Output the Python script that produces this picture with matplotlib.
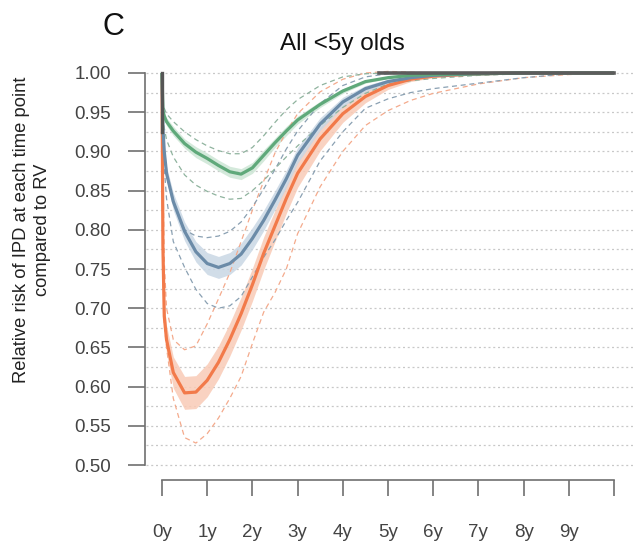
import numpy as np
import matplotlib
matplotlib.use("Agg")
import matplotlib.pyplot as plt

plt.rcParams['font.family'] = ['Liberation Sans', 'DejaVu Sans']

# time since vaccination (years)
t = [0, 0.02, 0.05, 0.1, 0.25, 0.5, 0.75, 1.0, 1.25, 1.5, 1.75, 2.0, 2.25, 2.5,
     2.75, 3.0, 3.5, 4.0, 4.5, 5.0, 5.5, 6.0, 7.0, 8.0, 9.0, 10.0]

# green scenario: median, ribbon half-width, dashed bounds
green_mid = [1.0, 0.952, 0.945, 0.938, 0.926, 0.910, 0.899, 0.891, 0.882, 0.874, 0.871, 0.879,
             0.895, 0.911, 0.926, 0.940, 0.960, 0.977, 0.989, 0.994, 0.997, 0.998, 0.999, 1.0, 1.0, 1.0]
green_hw = [0, 0.004, 0.005, 0.005, 0.006, 0.006, 0.007, 0.007, 0.007, 0.007, 0.007, 0.007,
            0.007, 0.006, 0.006, 0.005, 0.004, 0.003, 0.002, 0.001, 0.001, 0.0005, 0, 0, 0, 0]
green_hi = [1.0, 0.962, 0.955, 0.948, 0.938, 0.925, 0.915, 0.907, 0.901, 0.897, 0.897, 0.905,
            0.920, 0.937, 0.953, 0.966, 0.984, 0.995, 0.999, 1.0, 1.0, 1.0, 1.0, 1.0, 1.0, 1.0]
green_lo = [1.0, 0.942, 0.930, 0.915, 0.893, 0.870, 0.857, 0.849, 0.843, 0.839, 0.840, 0.850,
            0.863, 0.878, 0.893, 0.907, 0.933, 0.956, 0.974, 0.986, 0.990, 0.993, 0.997, 0.999, 1.0, 1.0]

# blue scenario
blue_mid = [1.0, 0.930, 0.900, 0.872, 0.836, 0.798, 0.772, 0.757, 0.752, 0.757, 0.769, 0.789,
            0.812, 0.838, 0.865, 0.895, 0.935, 0.963, 0.980, 0.989, 0.994, 0.997, 0.999, 1.0, 1.0, 1.0]
blue_hw = [0, 0.005, 0.007, 0.009, 0.011, 0.012, 0.013, 0.014, 0.014, 0.014, 0.014, 0.014,
           0.013, 0.012, 0.011, 0.010, 0.008, 0.006, 0.004, 0.003, 0.002, 0.001, 0, 0, 0, 0]
blue_hi = [1.0, 0.935, 0.900, 0.870, 0.835, 0.800, 0.792, 0.790, 0.792, 0.798, 0.810, 0.829,
           0.852, 0.877, 0.903, 0.926, 0.961, 0.984, 0.995, 0.999, 1.0, 1.0, 1.0, 1.0, 1.0, 1.0]
blue_lo = [1.0, 0.925, 0.880, 0.840, 0.785, 0.752, 0.724, 0.706, 0.700, 0.703, 0.715, 0.740,
           0.765, 0.787, 0.812, 0.835, 0.888, 0.925, 0.955, 0.967, 0.975, 0.980, 0.987, 0.994, 0.999, 1.0]

# orange scenario
orange_mid = [1.0, 0.780, 0.690, 0.660, 0.618, 0.592, 0.593, 0.608, 0.631, 0.660, 0.693, 0.730,
              0.770, 0.805, 0.840, 0.872, 0.916, 0.948, 0.970, 0.984, 0.992, 0.996, 0.999, 1.0, 1.0, 1.0]
orange_hw = [0, 0.010, 0.015, 0.018, 0.020, 0.021, 0.021, 0.021, 0.021, 0.021, 0.021, 0.021,
             0.021, 0.020, 0.019, 0.018, 0.015, 0.011, 0.008, 0.005, 0.003, 0.002, 0.001, 0, 0, 0]
orange_hi = [1.0, 0.880, 0.760, 0.700, 0.660, 0.647, 0.652, 0.680, 0.712, 0.745, 0.785, 0.825,
             0.862, 0.898, 0.925, 0.948, 0.976, 0.992, 1.0, 1.002, 1.001, 1.0, 1.0, 1.0, 1.0, 1.0]
orange_lo = [1.0, 0.750, 0.680, 0.650, 0.585, 0.535, 0.528, 0.540, 0.560, 0.585, 0.613, 0.655,
             0.695, 0.720, 0.750, 0.795, 0.855, 0.900, 0.933, 0.952, 0.965, 0.974, 0.986, 0.994, 0.998, 1.0]

# where all scenarios sit at 1 (start and plateau)
flat_t = [4.8, 10.0]
flat_y = [1.0, 1.0]
start_y = [0.925, 1.0]

yticks = [0.50, 0.55, 0.60, 0.65, 0.70, 0.75, 0.80, 0.85, 0.90, 0.95, 1.00]
xticks = list(range(11))
xlabels = ['0y', '1y', '2y', '3y', '4y', '5y', '6y', '7y', '8y', '9y', '']

W, H = 634, 544
fig = plt.figure(figsize=(W / 100, H / 100), dpi=100)
ax = fig.add_axes([145 / W, (H - 480) / H, (W - 145) / W, (480 - 62) / H])
ax.set_xlim(-0.376, 10.442)
ax.set_ylim(0.4809, 1.014)

# dotted horizontal guides every 0.025
for g in np.arange(0.5, 1.0001, 0.025):
    ax.axhline(g, xmin=0.003, xmax=1, color='#c8c8c8', lw=0.9,
               linestyle=(0, (1.6, 2.2)), zorder=0)

series = [
    (orange_mid, orange_hw, orange_hi, orange_lo, '#f27a4a', '#f9cbb6', '#f4aa8c'),
    (blue_mid, blue_hw, blue_hi, blue_lo, '#6b8ba8', '#c9d7e5', '#8aa0b2'),
    (green_mid, green_hw, green_hi, green_lo, '#5fa97a', '#cde6d5', '#8fb39e'),
]
tt = np.array(t)
for mid, hw, hi, lo, c_line, c_band, c_dash in series:
    mid = np.array(mid)
    hw = np.array(hw)
    ax.fill_between(tt, mid - hw, mid + hw, color=c_band, alpha=0.85, lw=0, zorder=1)
    ax.plot(tt, hi, color=c_dash, lw=0.9, linestyle=(0, (4, 3)), zorder=2)
    ax.plot(tt, lo, color=c_dash, lw=0.9, linestyle=(0, (4, 3)), zorder=2)
for mid, hw, hi, lo, c_line, c_band, c_dash in series:
    ax.plot(tt, mid, color=c_line, lw=2.3, zorder=3, solid_capstyle='butt')

ax.plot(flat_t, flat_y, color='#5c5c5c', lw=2.6, zorder=4)
ax.plot([0, 0], start_y, color='#555555', lw=2.4, zorder=4)

for side in ['top', 'right']:
    ax.spines[side].set_visible(False)
ax.spines['left'].set_bounds(0.5, 1.0)
ax.spines['bottom'].set_bounds(0, 10)
for side in ['left', 'bottom']:
    ax.spines[side].set_color('#707070')
    ax.spines[side].set_linewidth(1.2)

ax.set_yticks(yticks)
ax.set_yticklabels(['%.2f' % v for v in yticks])
ax.set_xticks(xticks)
ax.set_xticklabels(xlabels)
ax.tick_params(axis='y', direction='out', length=12.5, width=1.2, color='#707070',
               labelsize=13.5, labelcolor='#444444', pad=12)
ax.tick_params(axis='x', direction='out', length=11.5, width=1.2, color='#707070',
               labelsize=13.5, labelcolor='#444444', pad=20)

fig.text(32 / W, (H - 230) / H, 'Relative risk of IPD at each time point\ncompared to RV',
         rotation=90, ha='center', va='center', fontsize=13.2, color='#222222',
         linespacing=1.35)
fig.text(342 / W, (H - 50) / H, 'All <5y olds', ha='center', va='baseline',
         fontsize=17.5, color='#111111')
fig.text(103 / W, (H - 35) / H, 'C', ha='left', va='baseline', fontsize=22, color='#111111')

fig.savefig('out.png', dpi=100)
